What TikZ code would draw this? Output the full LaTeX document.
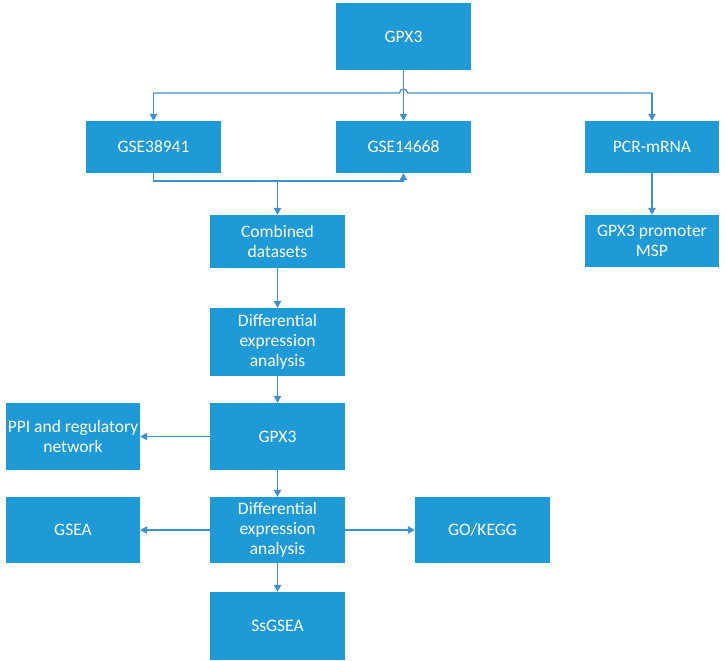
\documentclass[tikz,border=0pt]{standalone}
\usepackage{fontspec}
\setmainfont{Carlito}
\usetikzlibrary{arrows.meta}
\definecolor{boxblue}{HTML}{1E9AD6}
\definecolor{lineblue}{HTML}{3F8FD2}
\begin{document}
\begin{tikzpicture}[x=1pt,y=-1pt,
 box/.style={fill=boxblue, draw=none, text=white, align=center, font=\fontsize{17.5}{20}\selectfont, inner sep=0pt},
 conn/.style={draw=lineblue, line width=1.2pt},
 arr/.style={conn, -{Triangle[length=7pt,width=7.5pt]}}]
\useasboundingbox (0,0) rectangle (726,661);
\node[box, minimum width=135pt, minimum height=67pt] (top) at (403.5,36.5) {GPX3};
\node[box, minimum width=135pt, minimum height=52pt] (gse1) at (153.5,147) {GSE38941};
\node[box, minimum width=135pt, minimum height=52pt] (gse2) at (403.5,147) {GSE14668};
\node[box, minimum width=134pt, minimum height=52pt] (pcr) at (652,147) {PCR-mRNA};
\node[box, minimum width=135pt, minimum height=53pt] (comb) at (277.5,241.5) {Combined\\datasets};
\node[box, minimum width=134pt, minimum height=52pt] (msp) at (652,241) {GPX3 promoter\\MSP};
\node[box, minimum width=135pt, minimum height=68pt] (dea1) at (277.5,342) {Differential\\expression\\analysis};
\node[box, minimum width=135pt, minimum height=67pt] (gpx) at (277.5,436.5) {GPX3};
\node[box, minimum width=134pt, minimum height=67pt] (ppi) at (73,436.5) {PPI and regulatory\\network};
\node[box, minimum width=135pt, minimum height=66pt] (dea2) at (277.5,530) {Differential\\expression\\analysis};
\node[box, minimum width=134pt, minimum height=66pt] (gsea) at (73,530) {GSEA};
\node[box, minimum width=135pt, minimum height=66pt] (go) at (482.5,530) {GO/KEGG};
\node[box, minimum width=135pt, minimum height=68pt] (ss) at (277.5,626) {SsGSEA};
% top bus with hop
\coordinate (busL) at (153.5,93);
\coordinate (busR) at (652,93);
\coordinate (hopL) at (399.5,93);
\draw[conn] (busL) -- (hopL) arc[start angle=180,end angle=360,radius=4] -- (busR);
\draw[arr] (busL) -- (gse1.north);
\draw[arr] (busR) -- (pcr.north);
\draw[arr] (top.south) -- (gse2.north);
% bottom merge
\coordinate (j1) at (153.5,181);
\coordinate (j2) at (403.5,181);
\coordinate (j3) at (277.5,181);
\draw[conn] (gse1.south) -- (j1) -- (j2);
\draw[arr] (j2) -- (gse2.south);
\draw[arr] (j3) -- (comb.north);
\draw[arr] (pcr.south) -- (msp.north);
\draw[arr] (comb.south) -- (dea1.north);
\draw[arr] (dea1.south) -- (gpx.north);
\draw[arr] (gpx.south) -- (dea2.north);
\draw[arr] (dea2.south) -- (ss.north);
\draw[arr] (gpx.west) -- (ppi.east);
\draw[arr] (dea2.west) -- (gsea.east);
\draw[arr] (dea2.east) -- (go.west);
\end{tikzpicture}
\end{document}
